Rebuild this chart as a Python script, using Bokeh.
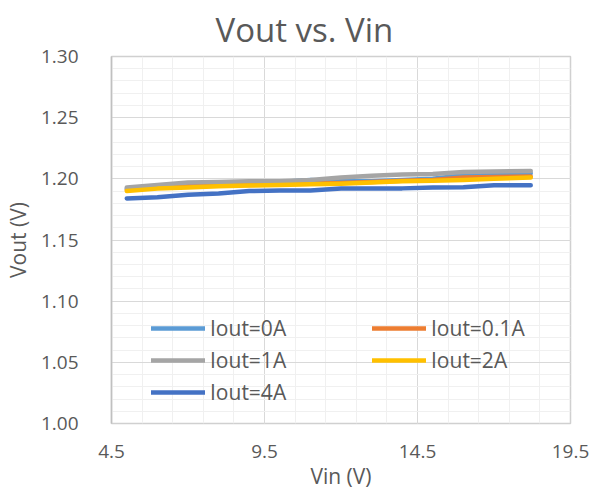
from bokeh.plotting import figure
from bokeh.models import (FixedTicker, NumeralTickFormatter, Legend, LegendItem, ColumnDataSource)
from bokeh.embed import file_html
from bokeh.resources import INLINE

# ---- data ----
vin = [5, 6, 7, 8, 9, 10, 11, 12, 13, 14, 15, 16, 17, 18.2]
vout_0a = [1.192, 1.194, 1.195, 1.196, 1.197, 1.1975, 1.199, 1.198, 1.198, 1.199, 1.200, 1.203, 1.204, 1.2045]
vout_01a = [1.191, 1.193, 1.194, 1.1945, 1.195, 1.1955, 1.196, 1.1965, 1.1975, 1.1985, 1.199, 1.201, 1.2015, 1.202]
vout_1a = [1.193, 1.195, 1.197, 1.1975, 1.198, 1.198, 1.199, 1.201, 1.2025, 1.2035, 1.204, 1.2055, 1.206, 1.2065]
vout_2a = [1.190, 1.192, 1.193, 1.194, 1.1945, 1.195, 1.1955, 1.196, 1.197, 1.198, 1.1985, 1.199, 1.200, 1.201]
vout_4a = [1.184, 1.185, 1.187, 1.188, 1.190, 1.1905, 1.1905, 1.192, 1.1922, 1.1922, 1.193, 1.1932, 1.1948, 1.1948]

series_names = ["Iout=0A", "Iout=0.1A", "Iout=1A", "Iout=2A", "Iout=4A"]
series_vals = [vout_0a, vout_01a, vout_1a, vout_2a, vout_4a]
series_colors = ["#5B9BD5", "#ED7D31", "#A5A5A5", "#FFC000", "#4472C4"]

x_major = [4.5, 9.5, 14.5, 19.5]
x_minor = [4.5 + i for i in range(16)]
y_major = [1.00, 1.05, 1.10, 1.15, 1.20, 1.25, 1.30]
y_minor = [round(1.00 + 0.01 * i, 2) for i in range(31)]

FONT = "Open Sans"
TXT = "#595959"

p = figure(frame_width=459, frame_height=367, output_backend="svg", toolbar_location=None,
           x_range=(4.5, 19.5), y_range=(1.00, 1.30),
           min_border_left=0, min_border_top=0, min_border_right=22, min_border_bottom=0,
           title="Vout vs. Vin")

p.title.text_font = FONT
p.title.text_font_size = "33px"
p.title.text_font_style = "normal"
p.title.text_color = TXT
p.title.align = "left"
p.title.offset = 104
p.title.standoff = 9

p.xaxis.ticker = FixedTicker(ticks=x_major, minor_ticks=x_minor)
p.yaxis.ticker = FixedTicker(ticks=y_major, minor_ticks=y_minor)
p.xaxis.formatter = NumeralTickFormatter(format="0.0")
p.yaxis.formatter = NumeralTickFormatter(format="0.00")

for ax in (p.xaxis[0], p.yaxis[0]):
    ax.axis_line_color = None
    ax.major_tick_line_color = None
    ax.minor_tick_line_color = None
    ax.major_tick_out = 0
    ax.minor_tick_out = 0
    ax.major_label_text_font = FONT
    ax.major_label_text_font_size = "19px"
    ax.major_label_text_color = TXT
    ax.axis_label_text_font = FONT
    ax.axis_label_text_font_size = "21px"
    ax.axis_label_text_font_style = "normal"
    ax.axis_label_text_color = TXT

p.yaxis.axis_line_color = "#C0C0C0"
p.yaxis.axis_line_width = 1.5

p.xaxis.axis_label = "Vin (V)"
p.yaxis.axis_label = "Vout (V)"
p.xaxis.major_label_standoff = 21
p.yaxis.major_label_standoff = 33
p.xaxis.axis_label_standoff = 1
p.yaxis.axis_label_standoff = 6

p.xgrid.grid_line_color = "#D9D9D9"
p.ygrid.grid_line_color = "#D9D9D9"
p.xgrid.minor_grid_line_color = "#F0F0F0"
p.ygrid.minor_grid_line_color = "#F0F0F0"
p.outline_line_color = "#D0D0D0"
p.outline_line_width = 1.5

renderers = []
for name, vals, col in zip(series_names, series_vals, series_colors):
    src = ColumnDataSource(dict(x=vin, y=vals))
    r = p.line("x", "y", source=src, line_color=col, line_width=4.5,
               line_join="round", line_cap="round")
    renderers.append(r)

def make_legend(idx, loc):
    lg = Legend(items=[LegendItem(label=series_names[i], renderers=[renderers[i]]) for i in idx],
                location=loc, orientation="vertical",
                border_line_color=None, background_fill_alpha=0,
                padding=0, margin=0, spacing=4,
                glyph_width=54, glyph_height=20, label_height=20, label_standoff=5,
                label_text_font=FONT, label_text_font_size="21px", label_text_color=TXT)
    return lg

p.add_layout(make_legend([0, 2, 4], (40, 17)), "center")
p.add_layout(make_legend([1, 3], (261, 49)), "center")

open("out.html", "w").write(file_html(p, INLINE))
